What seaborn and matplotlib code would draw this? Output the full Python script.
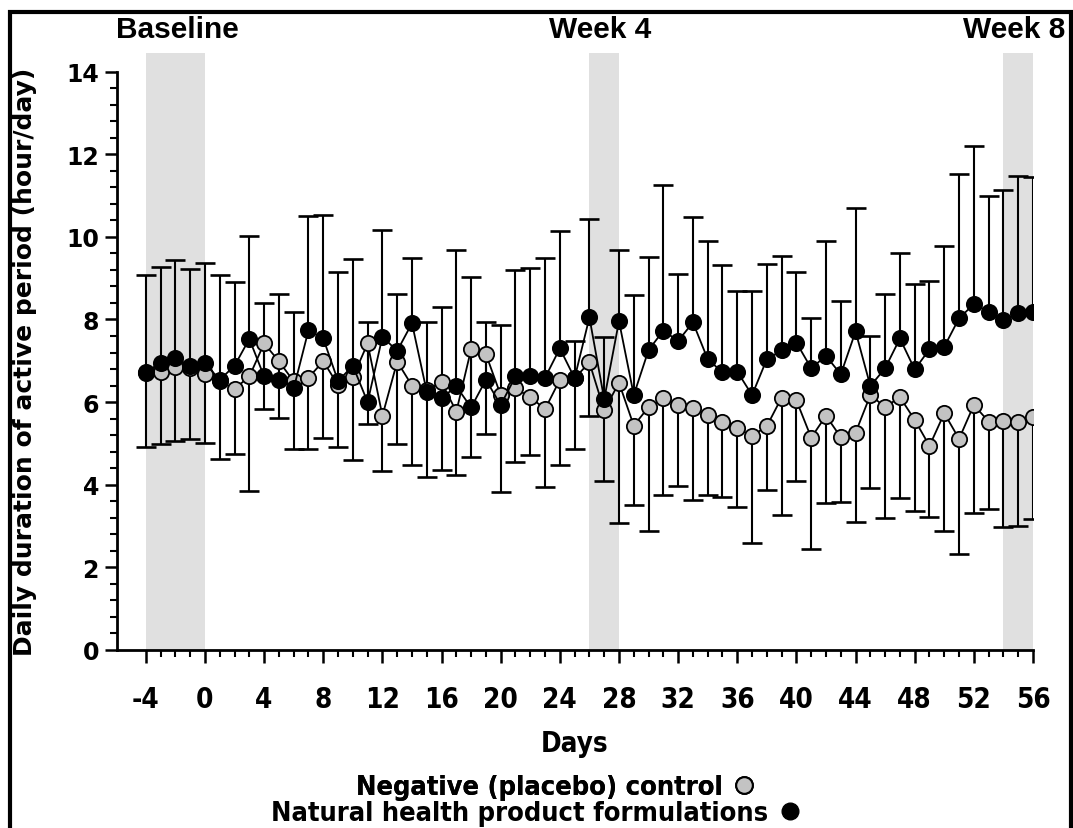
import matplotlib
matplotlib.use("Agg")
import matplotlib.pyplot as plt
from matplotlib.lines import Line2D
from matplotlib.patches import Rectangle
from matplotlib.ticker import FixedLocator
from matplotlib.font_manager import FontProperties
import matplotlib.transforms as mtransforms
import numpy as np
import pandas as pd
import seaborn as sns

# Day of study (baseline days are negative)
days = list(range(-4, 57))

# Negative (placebo) control: mean and lower end of the error bar
placebo_mean = [
    6.70, 6.74, 6.86, 6.82, 6.68, 6.50, 6.32, 6.62, 7.42, 6.99,
    6.50, 6.59, 6.99, 6.41, 6.60, 7.42, 5.67, 6.98, 6.40, 6.30,
    6.48, 5.77, 7.28, 7.16, 6.17, 6.33, 6.12, 5.83, 6.54, 6.58,
    6.96, 5.80, 6.47, 5.43, 5.88, 6.09, 5.93, 5.85, 5.69, 5.53,
    5.37, 5.18, 5.42, 6.11, 6.04, 5.14, 5.67, 5.15, 5.26, 6.17,
    5.88, 6.12, 5.57, 4.94, 5.73, 5.11, 5.93, 5.53, 5.55, 5.53,
    5.63,
]
placebo_lower = [
    4.92, 4.99, 5.05, 5.11, 5.00, 4.62, 4.75, 3.86, 5.83, 5.61,
    4.87, 4.87, 5.14, 4.91, 4.60, 5.46, 4.34, 4.99, 4.47, 4.18,
    4.36, 4.24, 4.68, 5.23, 3.82, 4.56, 4.72, 3.94, 4.47, 4.86,
    5.67, 4.10, 3.07, 3.51, 2.88, 3.74, 3.96, 3.62, 3.74, 3.70,
    3.46, 2.59, 3.88, 3.27, 4.08, 2.45, 3.55, 3.58, 3.09, 3.93,
    3.19, 3.69, 3.37, 3.22, 2.88, 2.32, 3.31, 3.42, 2.98, 3.01,
    3.18,
]

# Natural health product formulations: mean and upper end of the error bar
nhp_mean = [
    6.74, 6.94, 7.06, 6.88, 6.94, 6.54, 6.88, 7.53, 6.62, 6.54,
    6.33, 7.74, 7.54, 6.51, 6.88, 6.00, 7.58, 7.24, 7.91, 6.25,
    6.10, 6.38, 5.87, 6.54, 5.93, 6.62, 6.62, 6.59, 7.30, 6.58,
    8.05, 6.07, 7.96, 6.17, 7.26, 7.73, 7.48, 7.93, 7.04, 6.72,
    6.74, 6.17, 7.04, 7.25, 7.44, 6.82, 7.12, 6.67, 7.71, 6.39,
    6.82, 7.54, 6.79, 7.28, 7.34, 8.03, 8.37, 8.19, 7.99, 8.15,
    8.17,
]
nhp_upper = [
    9.07, 9.28, 9.45, 9.21, 9.36, 9.07, 8.91, 10.03, 8.41, 8.62,
    8.19, 10.50, 10.52, 9.16, 9.46, 7.93, 10.16, 8.62, 9.50, 7.93,
    8.29, 9.68, 9.03, 7.93, 7.87, 9.20, 9.25, 9.48, 10.15, 7.48,
    10.43, 7.58, 9.68, 8.59, 9.52, 11.25, 9.11, 10.47, 9.90, 9.33,
    8.69, 8.70, 9.34, 9.54, 9.14, 8.04, 9.91, 8.45, 10.69, 7.61,
    8.61, 9.62, 8.86, 8.92, 9.79, 11.53, 12.20, 10.98, 11.13, 11.47,
    11.44,
]

# Measurement windows (shaded) and their captions
windows = [(-4, 0), (26, 28), (54, 56)]
window_labels = ["Baseline", "Week 4", "Week 8"]
window_label_x = [-1.85, 26.7, 54.7]

x_ticks = list(range(-4, 57, 4))
y_ticks = list(range(0, 15, 2))

label_placebo = "Negative (placebo) control"
label_nhp = "Natural health product formulations"
x_title = "Days"
y_title = "Daily duration of active period (hour/day)"

sns.set_theme(style="ticks")
plt.rcParams["font.family"] = ["Liberation Sans", "DejaVu Sans"]
plt.rcParams["axes.unicode_minus"] = False
for key in ("text.color", "axes.labelcolor", "xtick.color", "ytick.color", "axes.edgecolor"):
    plt.rcParams[key] = "black"


def cond(size):
    # condensed bold face for the bottom texts
    return FontProperties(family=["DejaVu Sans"], weight="bold",
                          stretch="condensed", size=size)


GREY = "#c3c3c3"
SHADE = "#e0e0e0"

fig = plt.figure(figsize=(10.73, 8.29), dpi=100)
ax = fig.add_axes([117 / 1073, 1 - 651 / 829, (1033 - 117) / 1073, (651 - 54) / 829])

for (a, b) in windows:
    ax.axvspan(a, b, color=SHADE, lw=0, zorder=0)

df = pd.DataFrame({
    "day": days + days,
    "value": placebo_mean + nhp_mean,
    "group": [label_placebo] * len(days) + [label_nhp] * len(days),
})

# One-sided error bars: placebo downward, formulations upward
pm = np.array(placebo_mean)
nm = np.array(nhp_mean)
zeros = np.zeros(len(days))
ax.errorbar(days, pm, yerr=[pm - np.array(placebo_lower), zeros], fmt="none",
            ecolor="black", elinewidth=1.5, capsize=0, zorder=2)
ax.errorbar(days, nm, yerr=[zeros, np.array(nhp_upper) - nm], fmt="none",
            ecolor="black", elinewidth=1.5, capsize=0, zorder=2)
cap_style = dict(ls="none", marker="_", markersize=15, markeredgewidth=1.9,
                 color="black", zorder=2)
ax.plot(days, placebo_lower, **cap_style)
ax.plot(days, nhp_upper, **cap_style)

sns.lineplot(data=df[df["group"] == label_placebo], x="day", y="value",
             color="black", lw=1.3, marker="o", markersize=11,
             markerfacecolor=GREY, markeredgecolor="black", markeredgewidth=1.3,
             legend=False, ax=ax, zorder=3)
sns.lineplot(data=df[df["group"] == label_nhp], x="day", y="value",
             color="black", lw=1.3, marker="o", markersize=11,
             markerfacecolor="black", markeredgecolor="black", markeredgewidth=1.3,
             legend=False, ax=ax, zorder=4)

ax.set_xlim(-5.95, 56)
ax.set_ylim(0, 14.45)
ax.spines["top"].set_visible(False)
ax.spines["right"].set_visible(False)
ax.spines["left"].set_bounds(0, 14)
ax.spines["bottom"].set_bounds(-5.95, 56)
for s in ("left", "bottom"):
    ax.spines[s].set_linewidth(2.0)

ax.set_xticks(x_ticks)
ax.set_yticks(y_ticks)
ax.xaxis.set_minor_locator(FixedLocator(np.arange(-4, 57, 1)))
ax.yaxis.set_minor_locator(FixedLocator(np.arange(0, 14.01, 0.4)))
ax.tick_params(which="major", direction="out", length=9, width=1.8)
ax.tick_params(which="minor", direction="out", length=5, width=1.5)
ax.tick_params(axis="x", which="major", pad=16)
ax.tick_params(axis="y", which="major", pad=4)

for t in ax.get_xticklabels():
    t.set_fontproperties(cond(20))
for t in ax.get_yticklabels():
    t.set_fontfamily(["DejaVu Sans"])
    t.set_fontweight("bold")
    t.set_fontsize(17)

ax.set_xlabel(x_title, fontproperties=cond(20), labelpad=12)
ax.set_ylabel(y_title, fontsize=18, fontweight="bold", family=["DejaVu Sans"])
ax.yaxis.label.set_va("center")
ax.yaxis.set_label_coords(-0.1, 0.485)

trans = mtransforms.blended_transform_factory(ax.transData, fig.transFigure)
for lab, xc in zip(window_labels, window_label_x):
    ax.text(xc, 1 - 30 / 829, lab, transform=trans, ha="center", va="center",
            fontsize=21.5, fontweight="bold", clip_on=False)

# Legend rows: text followed by the marker
h_placebo = Line2D([], [], ls="none", marker="o", markersize=12,
                   markerfacecolor=GREY, markeredgecolor="black", markeredgewidth=1.5)
h_nhp = Line2D([], [], ls="none", marker="o", markersize=12,
               markerfacecolor="black", markeredgecolor="black")
leg1 = fig.legend([h_placebo], [label_placebo], loc="center",
                  bbox_to_anchor=(557 / 1073, 1 - 788 / 829), markerfirst=False,
                  frameon=False, prop=cond(19.5), handletextpad=0.3, handlelength=1.0,
                  borderpad=0, borderaxespad=0)
leg2 = fig.legend([h_nhp], [label_nhp], loc="center",
                  bbox_to_anchor=(537 / 1073, 1 - 814 / 829), markerfirst=False,
                  frameon=False, prop=cond(19.5), handletextpad=0.3, handlelength=1.0,
                  borderpad=0, borderaxespad=0)
fig.add_artist(leg1)

# Outer frame
fig.add_artist(Rectangle((10 / 1073, -0.05), (1071 - 10) / 1073, 1.05 - 13 / 829,
                         transform=fig.transFigure, fill=False, lw=3.0,
                         edgecolor="black", zorder=10))

fig.savefig("out.png", dpi=100)
